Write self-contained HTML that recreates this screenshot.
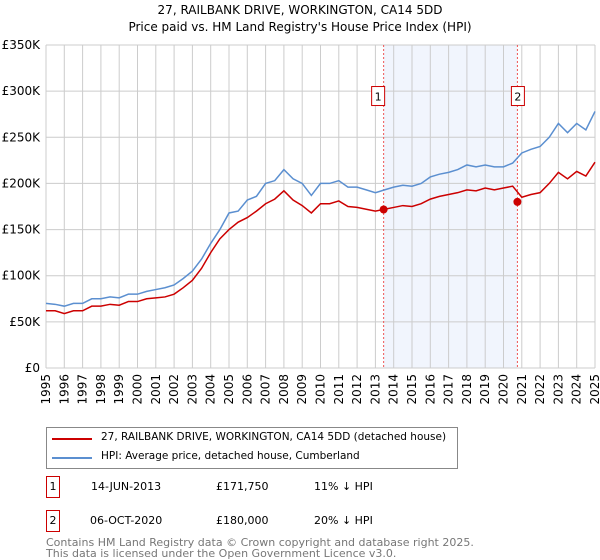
<!DOCTYPE html>
<html><head><meta charset="utf-8"><style>
body{margin:0;background:#fff;font-family:"DejaVu Sans","Liberation Sans",sans-serif;}
#wrap{position:relative;width:600px;height:560px;overflow:hidden;}
.t{position:absolute;font-size:12px;color:#000;white-space:nowrap;}
</style></head><body><div id="wrap">
<div class="t" style="left:0;width:600px;text-align:center;top:2px;font-size:12px;line-height:17px;">27, RAILBANK DRIVE, WORKINGTON, CA14 5DD<br>Price paid vs. HM Land Registry's House Price Index (HPI)</div>
<svg id="chart" width="600" height="420" style="position:absolute;left:0;top:0"></svg>
<div style="position:absolute;left:46px;top:427px;width:410px;height:40px;border:1px solid #888;">
<div style="position:absolute;left:5px;top:10px;width:40px;height:2px;background:#cc0000"></div>
<div class="t" style="left:54px;top:3px;font-size:10.5px">27, RAILBANK DRIVE, WORKINGTON, CA14 5DD (detached house)</div>
<div style="position:absolute;left:5px;top:29px;width:40px;height:2px;background:#5b8fd0"></div>
<div class="t" style="left:54px;top:22px;font-size:10.5px">HPI: Average price, detached house, Cumberland</div>
</div>
<div>
<div class="t" style="left:46px;top:476px;width:12px;height:20px;border:1px solid #cc0000;text-align:center;line-height:20px;font-size:11px">1</div>
<div class="t" style="left:91px;top:480px;font-size:11px">14-JUN-2013</div>
<div class="t" style="left:216px;top:480px;font-size:11px">£171,750</div>
<div class="t" style="left:314px;top:480px;font-size:11px">11% ↓ HPI</div></div>
<div>
<div class="t" style="left:46px;top:510px;width:12px;height:20px;border:1px solid #cc0000;text-align:center;line-height:20px;font-size:11px">2</div>
<div class="t" style="left:90px;top:514px;font-size:11px">06-OCT-2020</div>
<div class="t" style="left:216px;top:514px;font-size:11px">£180,000</div>
<div class="t" style="left:314px;top:514px;font-size:11px">20% ↓ HPI</div></div>
<div class="t" style="left:46px;top:537px;font-size:11px;color:#777;line-height:11px">Contains HM Land Registry data © Crown copyright and database right 2025.<br>This data is licensed under the Open Government Licence v3.0.</div>
</div>
<script>
const hpiYears=[1995,1995.5,1996,1996.5,1997,1997.5,1998,1998.5,1999,1999.5,2000,2000.5,2001,2001.5,2002,2002.5,2003,2003.5,2004,2004.5,2005,2005.5,2006,2006.5,2007,2007.5,2008,2008.5,2009,2009.5,2010,2010.5,2011,2011.5,2012,2012.5,2013,2013.5,2014,2014.5,2015,2015.5,2016,2016.5,2017,2017.5,2018,2018.5,2019,2019.5,2020,2020.5,2021,2021.5,2022,2022.5,2023,2023.5,2024,2024.5,2025];
const hpiValues=[70,69,67,70,70,75,75,77,76,80,80,83,85,87,90,97,105,118,135,150,168,170,182,186,200,203,215,205,200,187,200,200,203,196,196,193,190,193,196,198,197,200,207,210,212,215,220,218,220,218,218,222,233,237,240,250,265,255,265,258,278];
const priceValues=[62,62,59,62,62,67,67,69,68,72,72,75,76,77,80,87,95,108,125,140,150,158,163,170,178,183,192,182,176,168,178,178,181,175,174,172,170,172,174,176,175,178,183,186,188,190,193,192,195,193,195,197,185,188,190,200,212,205,213,208,223];
const saleDates=[2013.45,2020.76];
const salePrices=[171.75,180];
const saleLabels=["1","2"];
const yTicks=[0,50,100,150,200,250,300,350];
const yTickLabels=["£0","£50K","£100K","£150K","£200K","£250K","£300K","£350K"];
const xTicks=[1995,1996,1997,1998,1999,2000,2001,2002,2003,2004,2005,2006,2007,2008,2009,2010,2011,2012,2013,2014,2015,2016,2017,2018,2019,2020,2021,2022,2023,2024,2025];
const NS="http://www.w3.org/2000/svg";
const svg=document.getElementById('chart');
const X0=46,X1=595,Y0=368,Y1=45;
const FF='DejaVu Sans, Liberation Sans, sans-serif';
const x=v=>X0+(v-1995)/30*(X1-X0);
const y=v=>Y0-v/350*(Y0-Y1);
function mk(t,a){const e=document.createElementNS(NS,t);for(const k in a)e.setAttribute(k,a[k]);svg.appendChild(e);return e;}
const sh=mk('rect',{x:x(saleDates[0]),y:Y1,width:x(saleDates[1])-x(saleDates[0]),height:Y0-Y1,fill:'#eef3fc',opacity:0.8});


yTicks.forEach((v,i)=>{
 const g=mk('line',{x1:X0,x2:X1,y1:y(v),y2:y(v),stroke:'#ccc','stroke-width':1});
 
 
 const t=mk('text',{x:X0-6,y:y(v)+4,'text-anchor':'end','font-size':12,'font-family':FF});
 t.textContent=yTickLabels[i];
 
 
});
xTicks.forEach(v=>{
 const g=mk('line',{x1:x(v),x2:x(v),y1:Y1,y2:Y0,stroke:'#ccc','stroke-width':1});
 
 
 const t=mk('text',{x:0,y:0,'text-anchor':'end','font-size':12,'font-family':FF,transform:`translate(${x(v)+4},${Y0+6}) rotate(-90)`});
 t.textContent=v;
 
 
});
saleDates.forEach((d,i)=>{
 const l=mk('line',{x1:x(d),x2:x(d),y1:Y1,y2:Y0,stroke:'#e55','stroke-width':1,'stroke-dasharray':'2,2'});
 
 
});
const line=(vals,col,name)=>{
 const p=mk('polyline',{points:hpiYears.map((d,i)=>x(d)+','+y(vals[i])).join(' '),fill:'none',stroke:col,'stroke-width':1.5});
 
 
};
line(hpiValues,'#5b8fd0','hpi-line');
line(priceValues,'#cc0000','price-paid-line');
saleDates.forEach((d,i)=>{
 const c=mk('circle',{cx:x(d),cy:y(salePrices[i]),r:4,fill:'#cc0000'});
 
 
 const bx=x(d)-(i==0?12:6);
 const r=mk('rect',{x:bx,y:y(305),width:13,height:19,fill:'#fff',stroke:'#cc0000'});
 
 
 const t=mk('text',{x:bx+6.5,y:y(305)+14,'text-anchor':'middle','font-size':11,'font-family':FF});
 t.textContent=saleLabels[i];
 
 
});
</script>
</body></html>
